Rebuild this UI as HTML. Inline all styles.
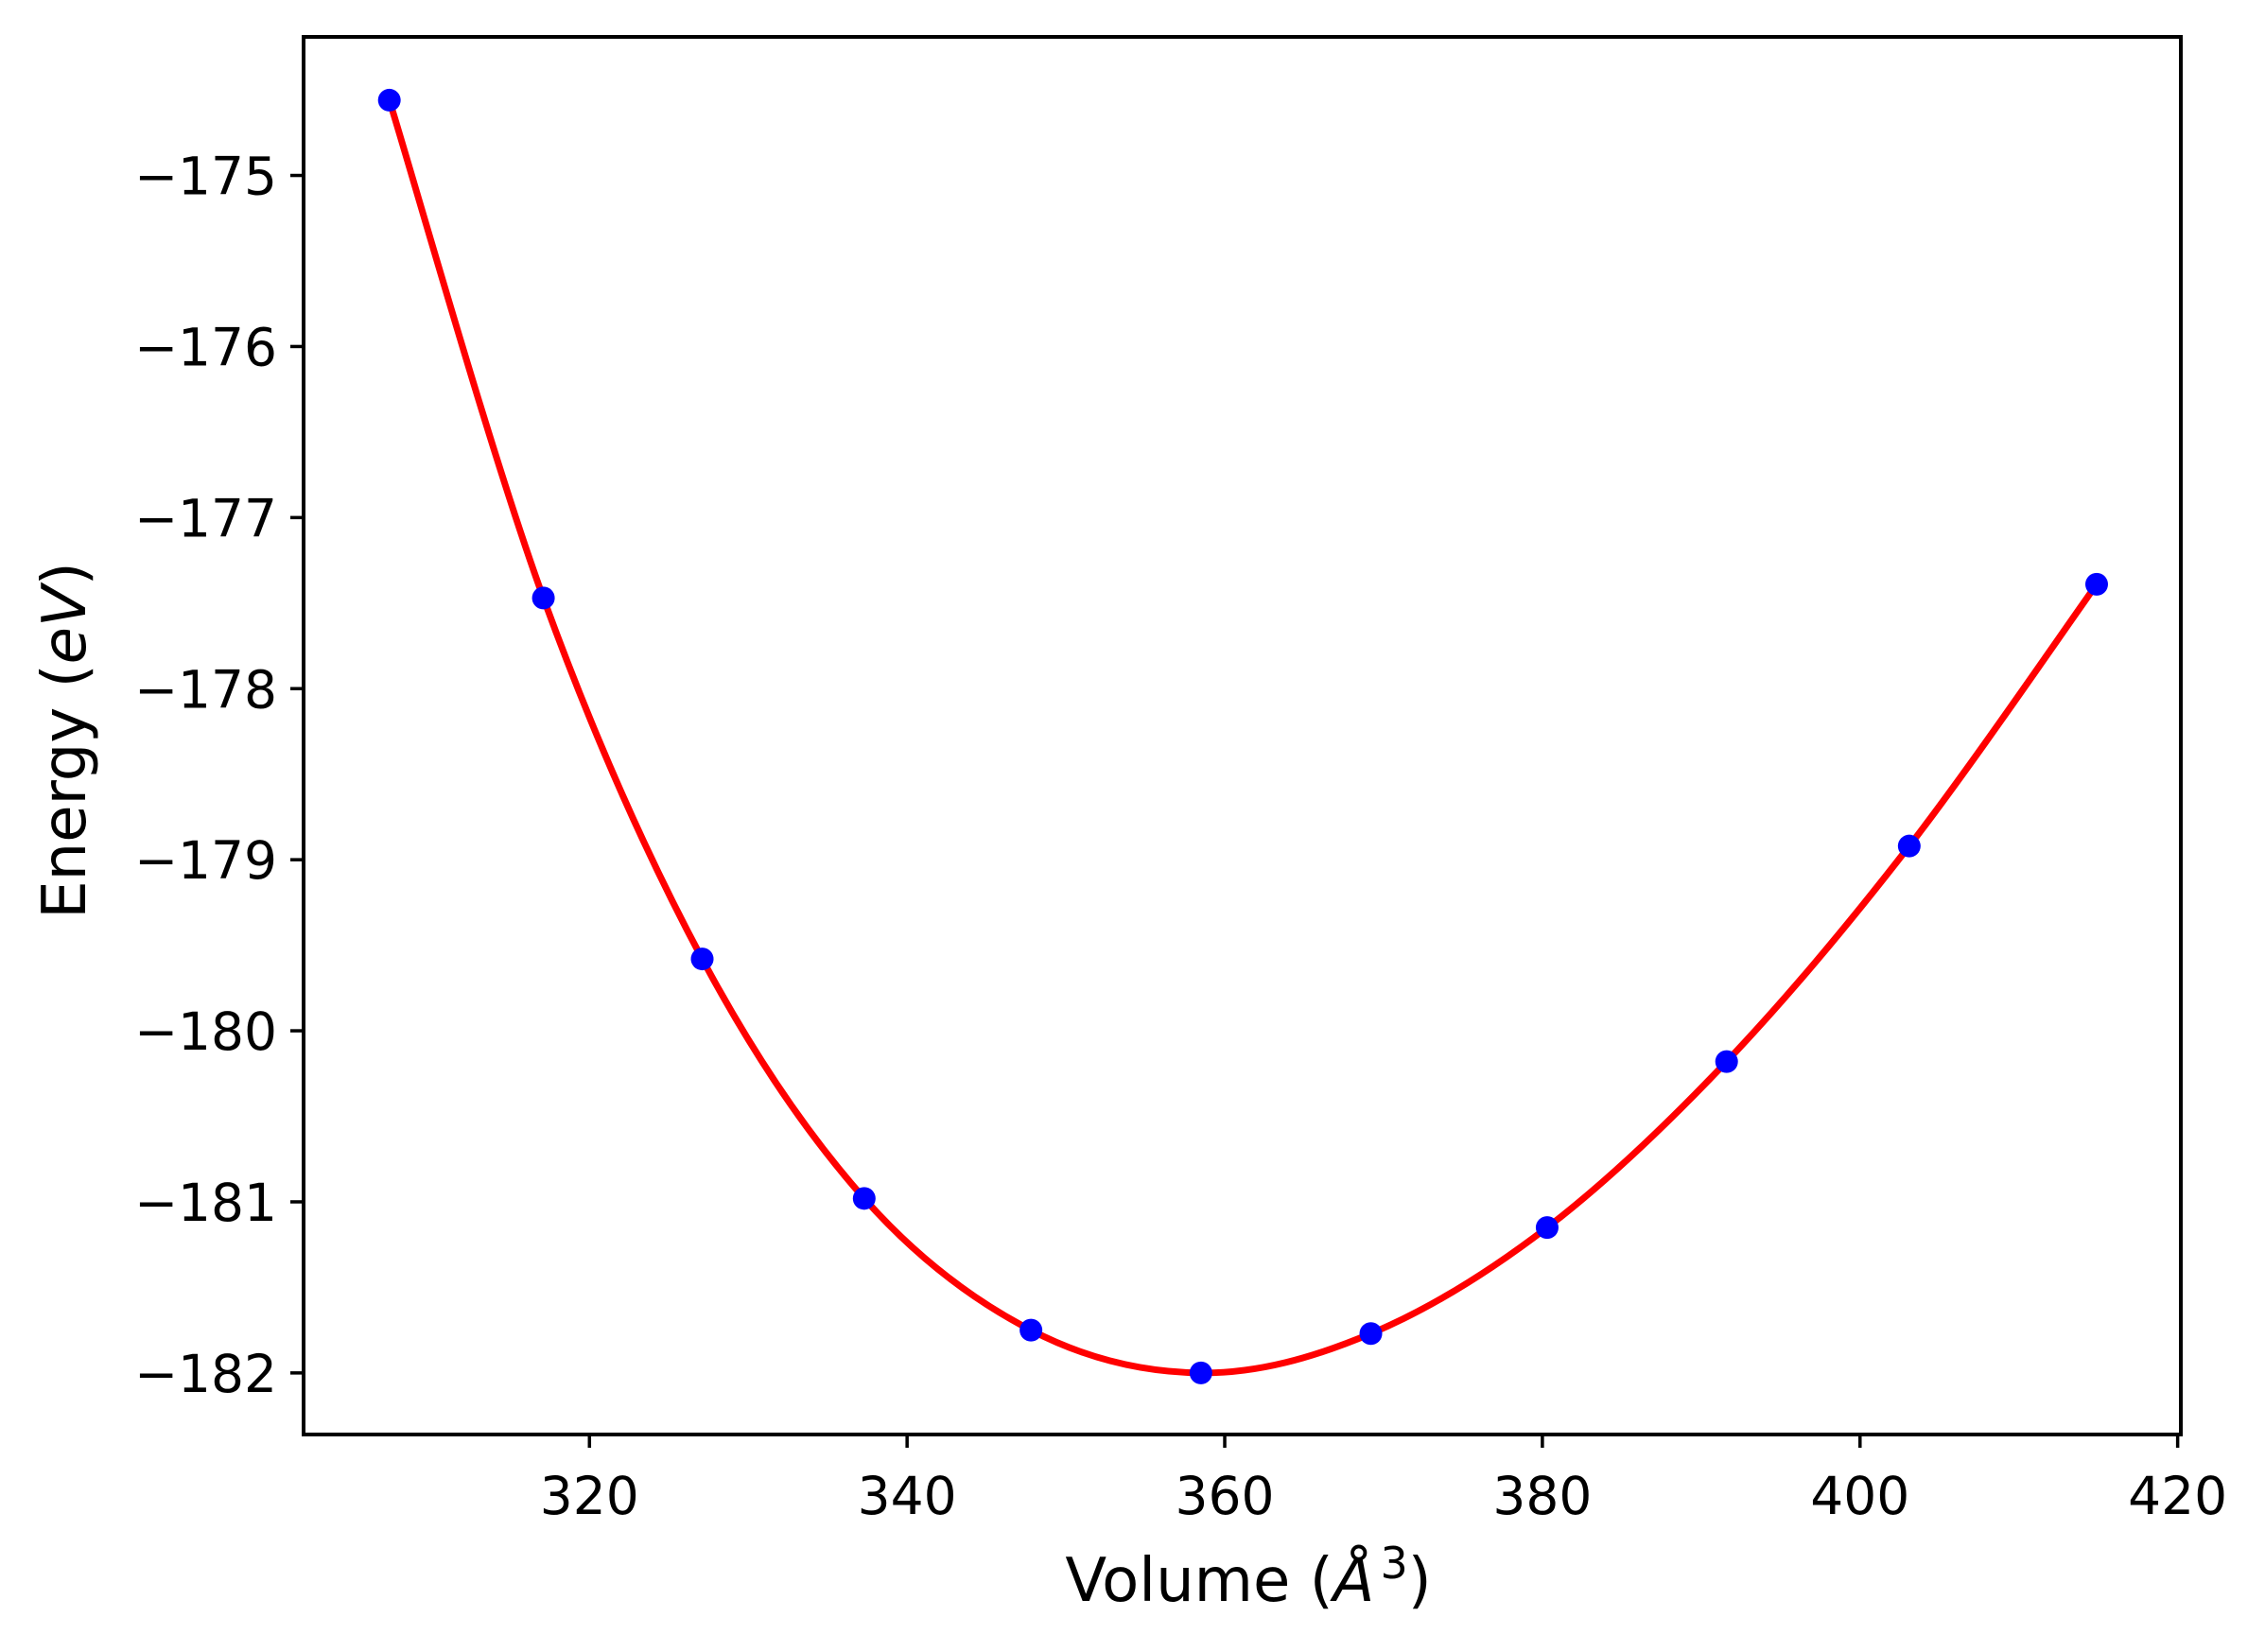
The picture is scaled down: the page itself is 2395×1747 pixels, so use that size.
<!DOCTYPE html>
<html><head><meta charset="utf-8"><style>
html,body{margin:0;padding:0;background:#fff;}
svg{display:block;font-family:"DejaVu Sans","Liberation Sans",sans-serif;}
</style></head><body>
<svg id="chart" width="2395" height="1747" xmlns="http://www.w3.org/2000/svg">
<rect width="2395" height="1747" fill="#fff"/>
<g id="plot"></g>
<text x="1320" y="1693" font-size="64" text-anchor="middle" fill="#000">Volume (<tspan font-style="italic">Å</tspan><tspan dx="6" dy="-24" font-size="46">3</tspan><tspan dy="24">)</tspan></text>
<text x="0" y="0" font-size="64" text-anchor="middle" fill="#000" transform="translate(90,783) rotate(-90)">Energy (<tspan font-style="italic">eV</tspan>)</text>
</svg>
<script>
const volumes = [307.4, 317.1, 327.1, 337.3, 347.8, 358.5, 369.2, 380.3, 391.6, 403.1, 414.9];
const energies = [-174.56, -177.47, -179.58, -180.98, -181.75, -182.0, -181.77, -181.15, -180.18, -178.92, -177.39];
const xTicks = [320, 340, 360, 380, 400, 420];
const yTicks = [-175, -176, -177, -178, -179, -180, -181, -182];

const L=321, R=2306, T=39, B=1517;
const xMin=302.0, xMax=420.2, yMin=-182.36, yMax=-174.19;
const sx = v => L + (v - xMin) / (xMax - xMin) * (R - L);
const sy = v => B - (v - yMin) / (yMax - yMin) * (B - T);
const NS = "http://www.w3.org/2000/svg";
const g = document.getElementById('plot');
function mk(tag, attrs, parent){ const e=document.createElementNS(NS,tag); for(const k in attrs) e.setAttribute(k,attrs[k]); (parent||g).appendChild(e); return e; }

const pts = volumes.map((v,i)=>[sx(v), sy(energies[i])]);
let d = `M${pts[0][0]},${pts[0][1]}`;
for(let i=0;i<pts.length-1;i++){
  const p0=pts[Math.max(0,i-1)], p1=pts[i], p2=pts[i+1], p3=pts[Math.min(pts.length-1,i+2)];
  const c1=[p1[0]+(p2[0]-p0[0])/6, p1[1]+(p2[1]-p0[1])/6];
  const c2=[p2[0]-(p3[0]-p1[0])/6, p2[1]-(p3[1]-p1[1])/6];
  d += ` C${c1[0]},${c1[1]} ${c2[0]},${c2[1]} ${p2[0]},${p2[1]}`;
}
const curve = mk('path',{d:d, fill:'none', stroke:'#ff0000', 'stroke-width':7});



pts.forEach((p,i)=>{
  const c = mk('circle',{cx:p[0], cy:p[1], r:12, fill:'#0000ff'});
  
  
});

const frame = mk('rect',{x:L, y:T, width:R-L, height:B-T, fill:'none', stroke:'#000', 'stroke-width':4});



xTicks.forEach(t=>{
  const x=sx(t);
  const tk = mk('line',{x1:x, x2:x, y1:B, y2:B+14, stroke:'#000', 'stroke-width':3.5});
  
  
  const tx = mk('text',{x:x, y:B+84, 'font-size':55, 'text-anchor':'middle', fill:'#000'});
  tx.textContent = t;
  
  
});
yTicks.forEach(t=>{
  const y=sy(t);
  const tk = mk('line',{x1:L-14, x2:L, y1:y, y2:y, stroke:'#000', 'stroke-width':3.5});
  
  
  const tx = mk('text',{x:L-28, y:y+20, 'font-size':55, 'text-anchor':'end', fill:'#000'});
  tx.textContent = '\u2212' + Math.abs(t);
  
  
});
</script>
</body></html>
